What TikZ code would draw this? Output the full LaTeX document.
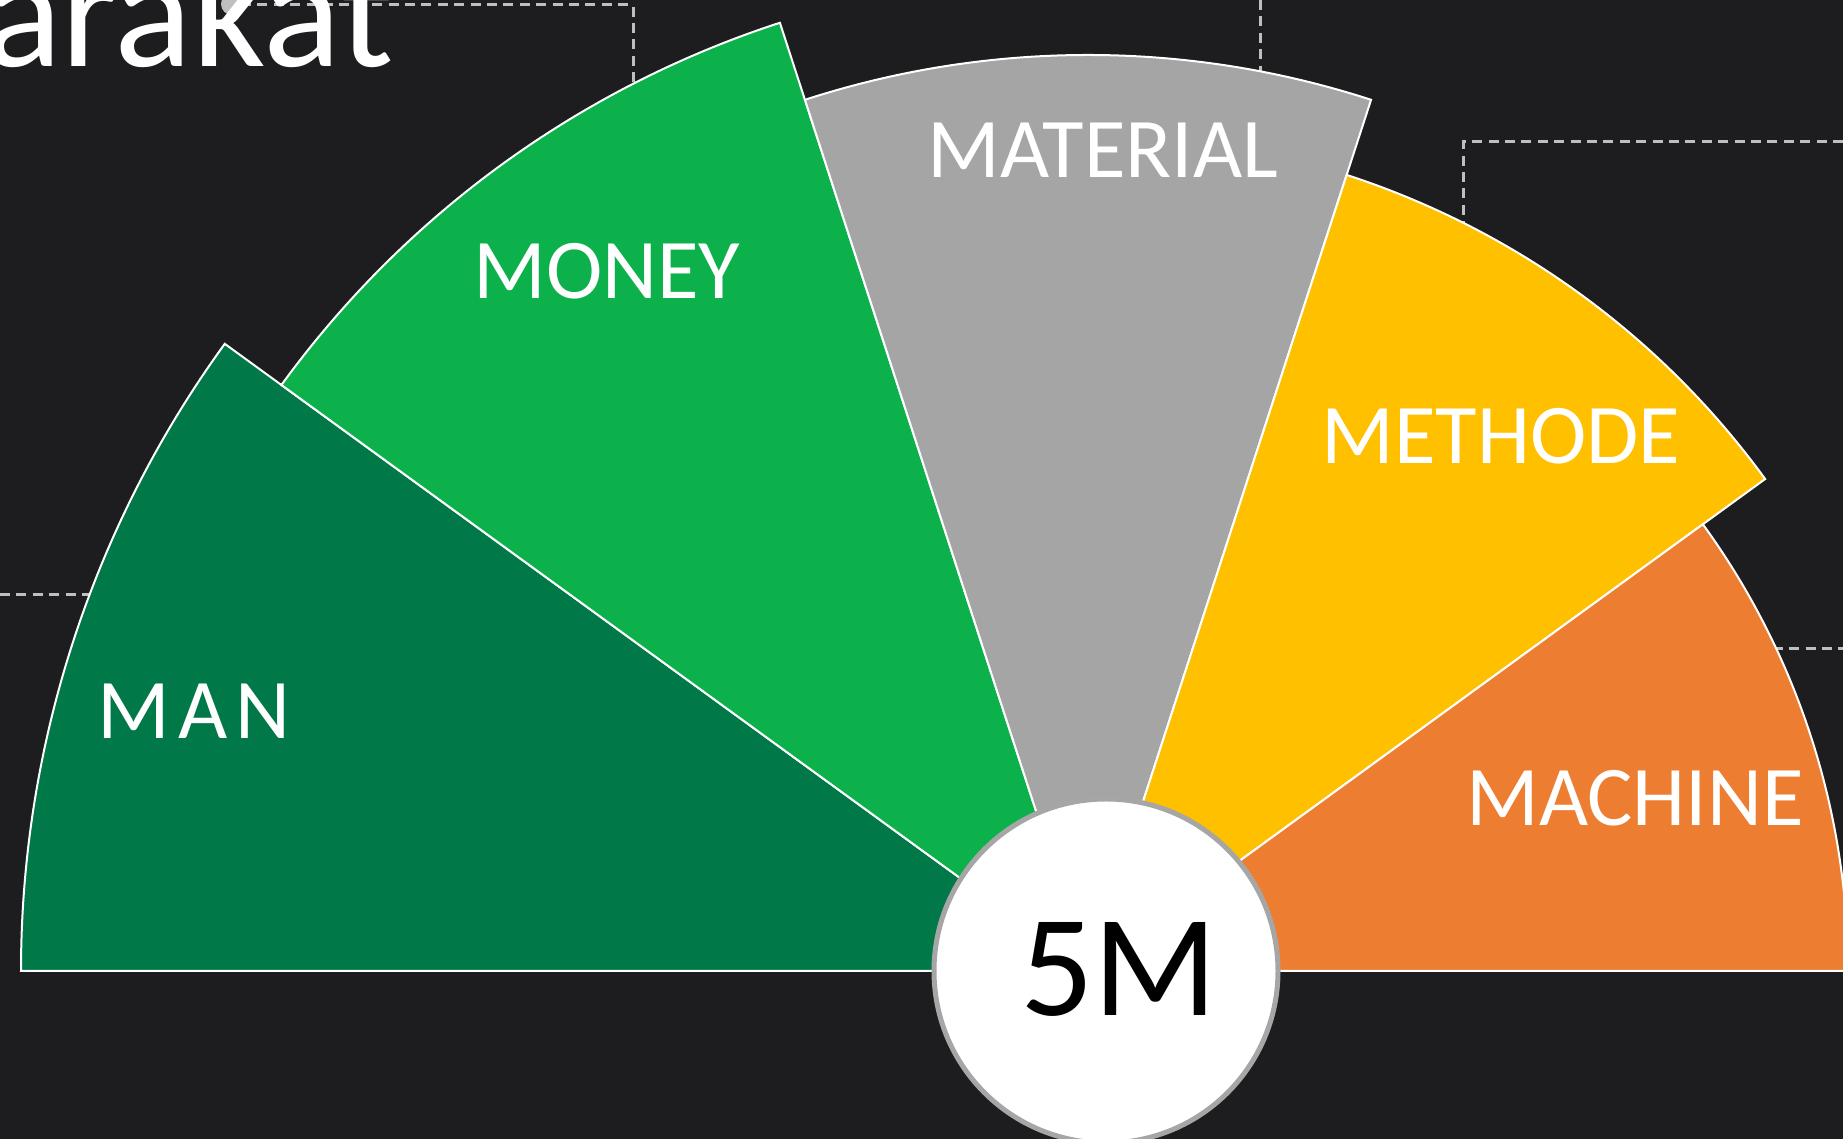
\documentclass[tikz,border=0pt]{standalone}
\usepackage{fontspec}
\setmainfont{Carlito}
\definecolor{bgc}{HTML}{1D1D1F}
\definecolor{manc}{HTML}{007847}
\definecolor{moneyc}{HTML}{0DB14B}
\definecolor{materialc}{HTML}{A5A5A5}
\definecolor{methodec}{HTML}{FFC000}
\definecolor{machinec}{HTML}{ED7D31}
\definecolor{dashc}{HTML}{BFBFBF}
\definecolor{ringc}{HTML}{A6A6A6}
\tikzset{
  guide/.style={draw=dashc, line width=1.5pt, dash pattern=on 5pt off 3.2pt},
  sector/.style={draw=white, line width=1pt, line join=miter},
  lbl/.style={text=white, inner sep=0pt, anchor=base, font=\fontsize{42.5pt}{50pt}\selectfont}
}
\begin{document}
\begin{tikzpicture}[x=0.5pt,y=0.5pt]
\useasboundingbox (0,0) rectangle (1843,1139);
\fill[bgc] (0,0) rectangle (1843,1139);
% dashed guides
\coordinate (g1a) at (241,1134);
\coordinate (g1b) at (633,1134);
\coordinate (g1c) at (633,1030);
\draw[guide] (g1a) -- (g1b) -- (g1c);
\coordinate (g2a) at (1260.5,1139);
\coordinate (g2b) at (1260.5,1040);
\draw[guide] (g2a) -- (g2b);
\coordinate (g3a) at (1843,997.7);
\coordinate (g3b) at (1463.7,997.7);
\coordinate (g3c) at (1463.7,880);
\draw[guide] (g3a) -- (g3b) -- (g3c);
\coordinate (g4a) at (0,544.7);
\coordinate (g4b) at (120,544.7);
\draw[guide] (g4a) -- (g4b);
\coordinate (g5a) at (1740,490.3);
\coordinate (g5b) at (1843,490.3);
\draw[guide] (g5a) -- (g5b);
\fill[dashc] (232,1135) circle[radius=11];
% title fragment
\node[anchor=base east, inner sep=0pt, text=white, font=\fontsize{81pt}{90pt}\selectfont] (title) at (394,1072.3) {arakat};
% fan
\coordinate (O) at (1088,168);
\path[sector, fill=manc] (O) -- ++(180:1067) arc[start angle=180, end angle=144, radius=1067] -- cycle;
\path[sector, fill=moneyc] (O) -- ++(144:997) arc[start angle=144, end angle=108, radius=997] -- cycle;
\path[sector, fill=materialc] (O) -- ++(108:916) arc[start angle=108, end angle=72, radius=916] -- cycle;
\path[sector, fill=methodec] (O) -- ++(72:837) arc[start angle=72, end angle=36, radius=837] -- cycle;
\path[sector, fill=machinec] (O) -- ++(36:760) arc[start angle=36, end angle=0, radius=760] -- cycle;
% labels
\node[lbl] (man) at (194,400.2) {M\hspace{4pt}A\hspace{4pt}N};
\node[lbl] (money) at (607,840.7) {MONEY};
\node[lbl] (material) at (1103,961.5) {MATERIAL};
\node[lbl] (methode) at (1501,675.7) {METHODE};
\node[lbl] (machine) at (1635,313) {MACHINE};
% centre disc
\node[circle, fill=white, draw=ringc, line width=2.5pt, minimum size=172pt, inner sep=0pt] (disc) at (1106,168) {};
\node[inner sep=0pt, anchor=base, text=black, font=\fontsize{72.5pt}{80pt}\selectfont] (fivem) at (1119,123.3) {5M};
\end{tikzpicture}
\end{document}
